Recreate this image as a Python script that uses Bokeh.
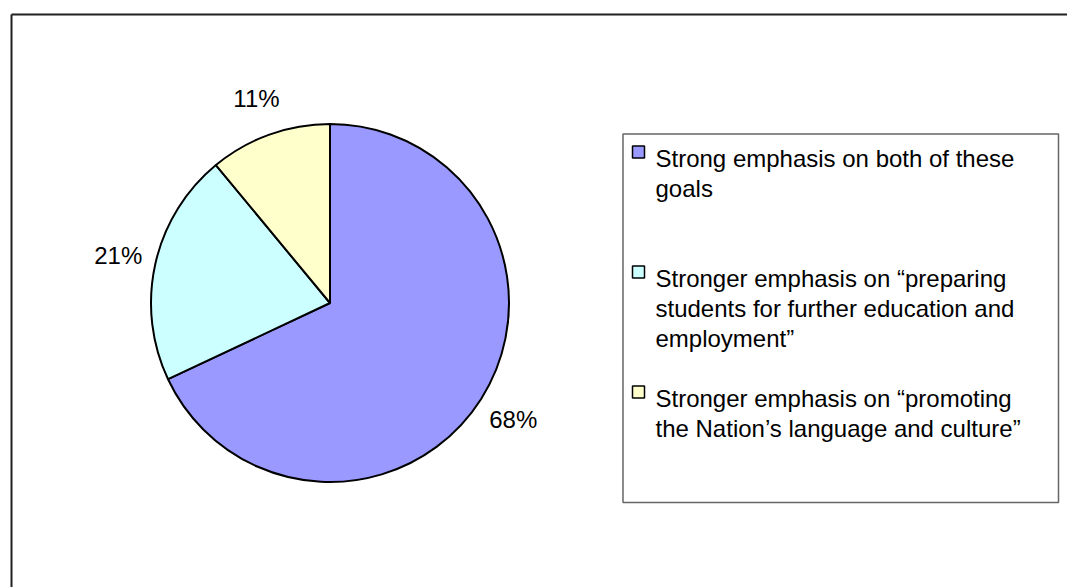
import numpy as np
from bokeh.plotting import figure
from bokeh.models import Range1d
from bokeh.embed import file_html
from bokeh.resources import INLINE
from bokeh.core.properties import value

# ---- data ----
categories = [
    "Strong emphasis on both of these\ngoals",
    "Stronger emphasis on \u201cpreparing\nstudents for further education and\nemployment\u201d",
    "Stronger emphasis on \u201cpromoting\nthe Nation\u2019s language and culture\u201d",
]
shares = [68, 21, 11]
pct_labels = ["68%", "21%", "11%"]
colors = ["#9999FF", "#CCFFFF", "#FFFFCC"]

FONT = "Liberation Sans"

# ---- canvas: data units == page pixels (y flipped) ----
W, H = 1067, 587
PAGE_H = 587


def py(y):
    return PAGE_H - y


p = figure(width=W, height=H, x_range=Range1d(0, W),
           y_range=Range1d(0, H),
           output_backend="svg", toolbar_location=None, min_border=0)
p.axis.visible = False
p.grid.visible = False
p.outline_line_color = None
p.background_fill_color = "white"
p.border_fill_color = "white"

# outer chart frame (only top and left visible)
p.segment(x0=[11, 11], y0=[py(14), py(14)], x1=[1067, 11], y1=[py(14), py(600)],
          line_color="#202020", line_width=2)

# ---- pie ----
cx, cy, R = 329.5, py(302.5), 179
fr = np.array(shares, dtype=float) / sum(shares)
before = np.concatenate([[0], np.cumsum(fr)[:-1]])
start = np.pi / 2 - 2 * np.pi * before
end = start - 2 * np.pi * fr
p.wedge(x=cx, y=cy, radius=R, radius_units="screen",
        start_angle=start, end_angle=end, direction="clock",
        fill_color=colors, line_color="black", line_width=2)

mid = start - np.pi * fr
LR = 217
p.text(x=cx + LR * np.cos(mid), y=cy + LR * np.sin(mid), text=pct_labels,
       text_font=value(FONT), text_font_size="24px", text_color="black",
       text_align="center", text_baseline="middle")

# ---- legend ----
p.quad(left=622.5, right=1058, top=py(133.5), bottom=py(502),
       fill_color="white", line_color="#666666", line_width=1.5)

ITEM_STEP = 120
LINE_STEP = 30
first_base = 158
xs, ys, txt = [], [], []
sw_y = []
for i, lab in enumerate(categories):
    base = first_base + ITEM_STEP * i
    sw_y.append(py(base - 6.5))
    for j, line in enumerate(lab.split("\n")):
        xs.append(655)
        ys.append(py(base + LINE_STEP * j))
        txt.append(line)

p.rect(x=638, y=sw_y, width=12, height=12,
       fill_color=colors, line_color="black", line_width=1.5)
p.text(x=xs, y=ys, text=txt, text_font=value(FONT), text_font_size="24px",
       text_color="black", text_align="left", text_baseline="alphabetic")

open("out.html", "w").write(file_html(p, INLINE))
